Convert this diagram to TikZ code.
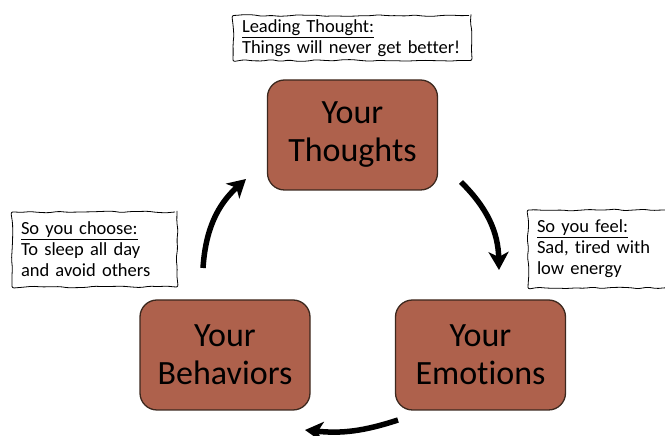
\documentclass[tikz,border=0pt]{standalone}
\usepackage{fontspec}
\setmainfont{Carlito}[Ligatures=CommonOff]
\usetikzlibrary{arrows.meta,decorations.pathmorphing}

\definecolor{boxfill}{RGB}{174,97,76}
\definecolor{boxline}{RGB}{60,40,30}

\begin{document}
\begin{tikzpicture}[x=1pt,y=1pt,
  box/.style={draw=boxline,line width=1.3pt,fill=boxfill,rounded corners=17pt,
    minimum width=170pt,minimum height=110pt,align=center,
    font=\fontsize{34}{38}\selectfont},
  note/.style={draw,line width=0.8pt,fill=white,align=left,inner xsep=9pt,inner ysep=4pt,
    font=\fontsize{18.5}{21}\selectfont,decorate,
    decoration={random steps,segment length=9pt,amplitude=0.9pt},rounded corners=2pt},
  flow/.style={line width=5.5pt,-{Stealth[length=18pt,width=20pt,inset=5pt]}}]
\pgfmathsetseed{7}
\useasboundingbox (0,0) rectangle (665,436);
%\draw [lightgray, ultra thin] (0,0) grid[step=50] (665,436);

% the three boxes
\node [box] (thoughts) at (352.5,301) {Your\\Thoughts};
\node [box] (behaviors) at (225,81) {Your\\Behaviors};
\node [box] (emotions) at (480.5,81) {Your\\Emotions};

% notes
\node [note,text width=220pt] (lead) at (352,398) {\underline{Leading Thought:}\\Things will never get better!};
\node [note,text width=147pt,minimum height=75pt] (choose) at (94.5,186.5) {\underline{So you choose:}\\To sleep all day\\and avoid others};
\node [note,text width=126pt,minimum height=78pt] (feel) at (600,187) {\underline{So you feel:}\\Sad, tired with\\low energy};

% arrow ends
\coordinate (b1) at (203,168);
\coordinate (t1) at (246,257);
\coordinate (t2) at (461,254);
\coordinate (e1) at (499,166);
\coordinate (e2) at (398,16);
\coordinate (b2) at (305,6);

\draw [flow] (b1) to[bend left=22] (t1);
\draw [flow] (t2) to[bend left=22] (e1);
\draw [flow] (e2) to[bend left=12] (b2);
\end{tikzpicture}
\end{document}
